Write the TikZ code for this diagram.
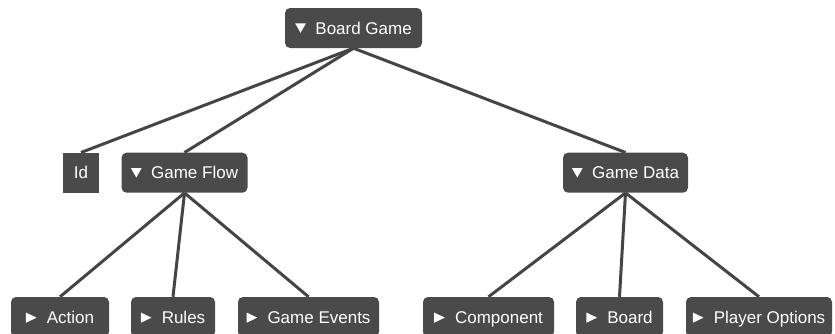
\documentclass[tikz,border=0pt]{standalone}
\usepackage{fontspec}
\setmainfont{Liberation Sans}
\definecolor{nodegray}{HTML}{4A4A4A}
\definecolor{linkgray}{HTML}{454545}
\pgfdeclarelayer{paper}
\pgfdeclarelayer{background}
\pgfsetlayers{paper,background,main}
% expand / collapse markers drawn as small white triangles
\newcommand{\opened}{\tikz[x=1pt,y=1pt,baseline=0pt,sharp corners]\fill[white] (0,10.7) -- (10.7,10.7) -- (5.35,1.3) -- cycle;\hspace{9.5pt}}
\newcommand{\closed}{\tikz[x=1pt,y=1pt,baseline=0pt,sharp corners]\fill[white] (0,0.3) -- (0,10.6) -- (10.7,5.45) -- cycle;\hspace{10.3pt}}
\begin{document}
\begin{tikzpicture}[x=1pt,y=-1pt,
  box/.style={fill=nodegray, text=white, rounded corners=5pt, minimum height=40pt,
    inner sep=0pt, text height=12.2pt, text depth=0pt,
    font=\fontsize{17}{20}\selectfont},
  leafbox/.style={box, rounded corners=0pt},
  link/.style={draw=linkgray, line width=3pt}]
\clip (0,0) rectangle (835,333);
\begin{pgfonlayer}{paper}
  \fill[white] (0,0) rectangle (835,333);
\end{pgfonlayer}

% root
\node[box, minimum width=137pt] (bg) at (353.5,28) {\opened Board Game};

% second level
\node[leafbox, minimum width=36pt] (id) at (81,172.7) {Id};
\node[box, minimum width=126pt] (gf) at (184.5,172.7) {\opened Game Flow};
\node[box, minimum width=125pt] (gd) at (625.5,172.7) {\opened Game Data};

% third level
\node[box, minimum width=98pt] (act) at (60,317) {\closed Action};
\node[box, minimum width=84pt] (rul) at (173,317) {\closed Rules};
\node[box, minimum width=141pt] (gev) at (308.5,317) {\closed Game Events};
\node[box, minimum width=131pt] (cmp) at (488.5,317) {\closed Component};
\node[box, minimum width=87pt] (brd) at (619.5,317) {\closed Board};
\node[box, minimum width=146pt] (plo) at (759,317) {\closed Player Options};

% links from parent bottom to child top
\begin{pgfonlayer}{background}
  \draw[link] (bg.south) -- (id.north);
  \draw[link] (bg.south) -- (gf.north);
  \draw[link] (bg.south) -- (gd.north);
  \draw[link] (gf.south) -- (act.north);
  \draw[link] (gf.south) -- (rul.north);
  \draw[link] (gf.south) -- (gev.north);
  \draw[link] (gd.south) -- (cmp.north);
  \draw[link] (gd.south) -- (brd.north);
  \draw[link] (gd.south) -- (plo.north);
\end{pgfonlayer}
\end{tikzpicture}
\end{document}
